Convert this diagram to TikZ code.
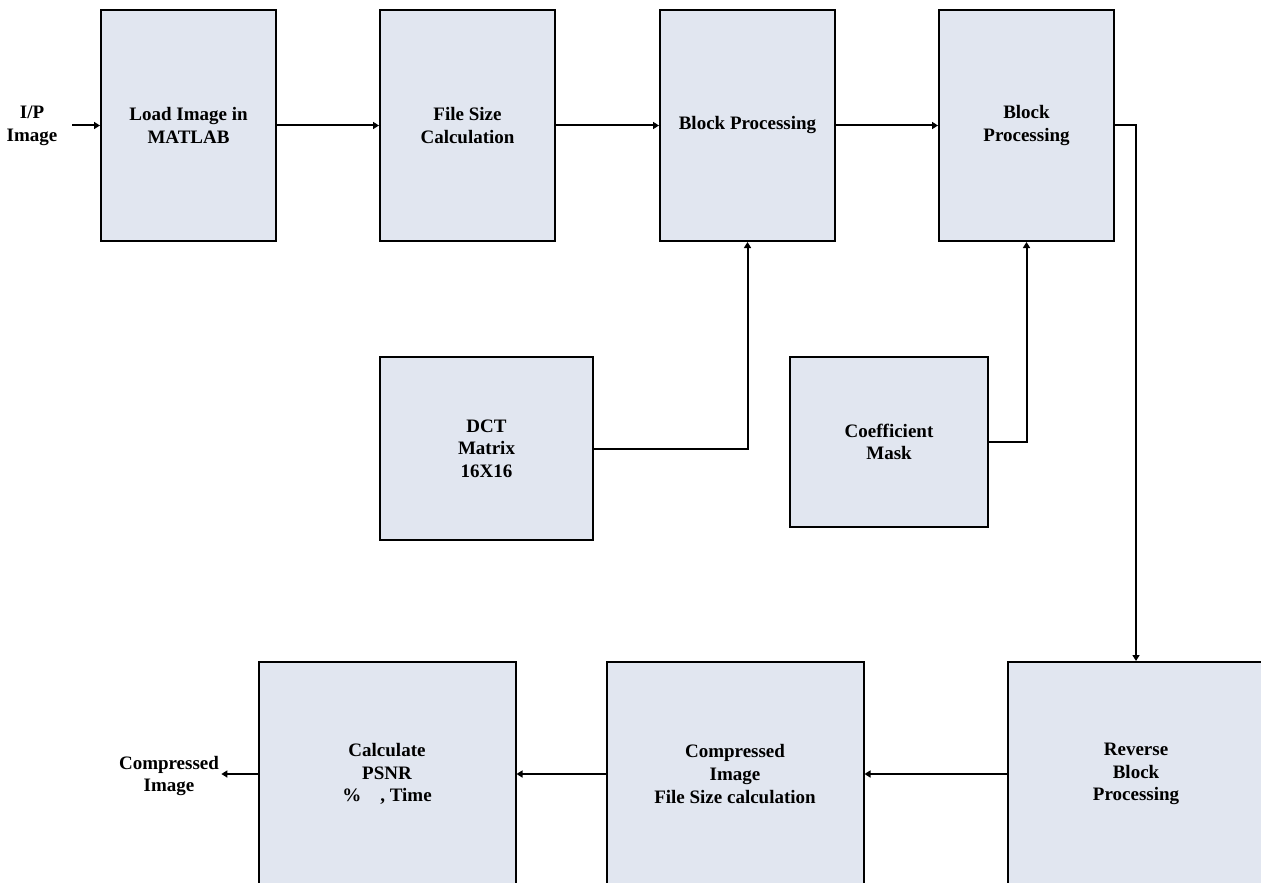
\documentclass[tikz,border=0pt]{standalone}
\usepackage{fontspec}
\setmainfont{Liberation Serif}
\usetikzlibrary{arrows.meta}

\definecolor{boxfill}{RGB}{225,230,240}

\tikzset{
  blk/.style={draw, fill=boxfill, line width=1pt, inner sep=2pt, align=center,
    font=\fontsize{9.5}{11.3}\selectfont\bfseries},
  topblk/.style={blk, minimum width=87.5pt, minimum height=115.5pt},
  botblk/.style={blk, minimum width=128.5pt, minimum height=112pt},
  lbl/.style={align=center, inner sep=1pt, font=\fontsize{9.5}{11.3}\selectfont\bfseries},
  arr/.style={line width=1pt, -{Triangle[length=3pt,width=3.5pt]}}
}

\begin{document}
\begin{tikzpicture}[x=0.5pt, y=-0.5pt]
  \useasboundingbox (0,0) rectangle (1261,882);

  % Top row
  \node[topblk] (load) at (188.5,125.5) {Load Image in\\MATLAB};
  \node[topblk] (fsize) at (467.5,125.5) {File Size\\Calculation};
  \node[topblk] (bp1) at (747.5,125.5) {Block Processing};
  \node[topblk] (bp2) at (1026.5,125.5) {Block\\Processing};

  % Inputs to block processing
  \node[blk, minimum width=106.5pt, minimum height=91.5pt] (dct) at (486.5,448.5) {DCT\\Matrix\\16X16};
  \node[blk, minimum width=99pt, minimum height=85pt] (coef) at (889,442) {Coefficient\\Mask};

  % Bottom row
  \node[botblk] (rev) at (1136,774) {Reverse\\Block\\Processing};
  \node[botblk] (comp) at (735,774) {Compressed\\Image\\File Size calculation};
  \node[botblk] (calc) at (387,774) {Calculate\\PSNR\\\%\quad, Time};

  % Input and output
  \node[lbl] (ipimg) at (32,126) {I/P\\Image};
  \coordinate (ipend) at (72,125.5);
  \node[lbl] (cimg) at (169,776) {Compressed\\Image};

  % Main flow
  \draw[arr] (ipend) -- (load.west);
  \draw[arr] (load) -- (fsize);
  \draw[arr] (fsize) -- (bp1);
  \draw[arr] (bp1) -- (bp2);
  \draw[arr] (bp2.east) -| (rev.north);
  \draw[arr] (rev) -- (comp);
  \draw[arr] (comp) -- (calc);
  \draw[arr] (calc.west) -- (calc.west -| cimg.east);

  % Side inputs
  \draw[arr] (dct.east) -| (bp1.south);
  \draw[arr] (coef.east) -| (bp2.south);
\end{tikzpicture}
\end{document}
